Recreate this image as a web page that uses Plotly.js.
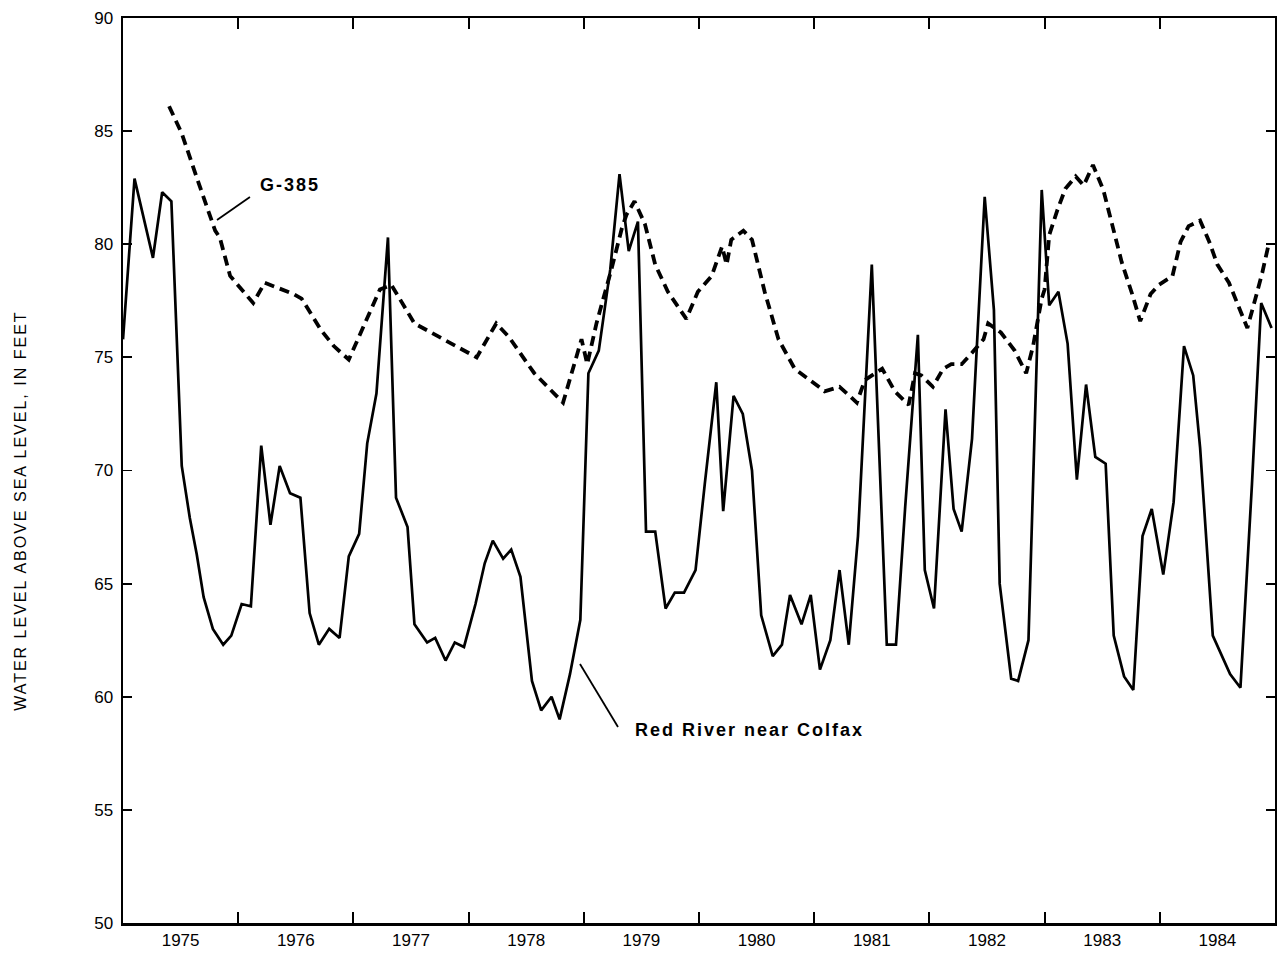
<!DOCTYPE html>
<html>
<head>
<meta charset="utf-8">
<script src="https://cdn.plot.ly/plotly-3.0.1.min.js"></script>
<style>html,body{margin:0;padding:0;background:#fff;}#chart{width:1277px;height:954px;}</style>
</head>
<body>
<div id="chart"></div>
<script>
// Red River near Colfax (solid line): decimal year, water level (ft)
const riverYears = [1975.00,1975.10,1975.26,1975.34,1975.42,1975.51,1975.58,1975.64,1975.70,1975.78,1975.87,1975.94,
  1976.03,1976.11,1976.20,1976.28,1976.36,1976.45,1976.54,1976.62,1976.70,1976.79,1976.88,1976.96,
  1977.05,1977.12,1977.20,1977.30,1977.37,1977.47,1977.53,1977.64,1977.71,1977.80,1977.88,1977.96,
  1978.06,1978.14,1978.21,1978.30,1978.37,1978.45,1978.55,1978.63,1978.72,1978.79,1978.88,1978.97,
  1979.04,1979.13,1979.23,1979.31,1979.39,1979.47,1979.54,1979.62,1979.71,1979.79,1979.87,1979.97,
  1980.05,1980.15,1980.21,1980.30,1980.38,1980.46,1980.54,1980.64,1980.72,1980.79,1980.89,1980.97,
  1981.05,1981.14,1981.22,1981.30,1981.38,1981.50,1981.63,1981.71,1981.79,1981.90,1981.96,
  1982.04,1982.14,1982.21,1982.28,1982.37,1982.48,1982.56,1982.61,1982.71,1982.77,1982.86,1982.975,
  1983.04,1983.12,1983.20,1983.28,1983.36,1983.44,1983.53,1983.60,1983.69,1983.77,1983.85,1983.93,
  1984.03,1984.12,1984.21,1984.29,1984.35,1984.46,1984.54,1984.61,1984.70,1984.80,1984.88,1984.97];
const riverLevels = [75.8,82.9,79.4,82.3,81.9,70.2,67.9,66.3,64.4,63.0,62.3,62.7,
  64.1,64.0,71.1,67.6,70.2,69.0,68.8,63.7,62.3,63.0,62.6,66.2,
  67.2,71.2,73.4,80.3,68.8,67.5,63.2,62.4,62.6,61.6,62.4,62.2,
  64.1,65.9,66.9,66.1,66.5,65.3,60.7,59.4,60.0,59.0,61.0,63.4,
  74.3,75.3,78.9,83.1,79.7,81.0,67.3,67.3,63.9,64.6,64.6,65.6,
  69.4,73.9,68.2,73.3,72.5,70.0,63.6,61.8,62.3,64.5,63.2,64.5,
  61.2,62.5,65.6,62.3,67.1,79.1,62.3,62.3,68.4,76.0,65.6,
  63.9,72.7,68.3,67.3,71.4,82.1,77.1,65.0,60.8,60.7,62.5,82.4,
  77.3,77.9,75.6,69.6,73.8,70.6,70.3,62.7,60.9,60.3,67.1,68.3,
  65.4,68.6,75.5,74.2,71.0,62.7,61.8,61.0,60.4,69.4,77.4,76.3];

// Well G-385 (dashed line)
const wellYears = [1975.40,1975.51,1975.65,1975.80,1975.84,1975.93,1976.13,1976.23,1976.48,1976.55,1976.72,1976.83,1976.96,
  1977.23,1977.33,1977.53,1978.07,1978.24,1978.35,1978.57,1978.82,1978.98,1979.03,1979.11,
  1979.24,1979.33,1979.37,1979.44,1979.53,1979.62,1979.73,1979.89,1979.99,1980.11,1980.20,1980.24,1980.28,1980.385,1980.46,
  1980.57,1980.69,1980.83,1981.04,1981.09,1981.22,1981.30,1981.37,1981.44,1981.59,1981.70,1981.82,1981.875,1981.93,
  1982.03,1982.12,1982.19,1982.28,1982.37,1982.47,1982.51,1982.62,1982.74,1982.84,1982.90,1982.975,1983.00,
  1983.04,1983.11,1983.18,1983.27,1983.34,1983.42,1983.51,1983.585,1983.67,1983.76,1983.83,1983.92,1983.99,
  1984.11,1984.18,1984.25,1984.35,1984.43,1984.50,1984.60,1984.68,1984.76,1984.83,1984.89,1984.945];
const wellLevels = [86.1,84.9,82.8,80.6,80.3,78.6,77.4,78.3,77.8,77.6,76.2,75.5,74.9,
  78.0,78.2,76.5,75.0,76.5,75.9,74.3,73.0,75.8,74.7,76.5,
  78.9,80.7,81.3,81.9,80.9,79.1,77.9,76.7,77.9,78.6,79.9,79.1,80.2,80.6,80.2,
  77.9,75.8,74.5,73.7,73.5,73.7,73.3,73.0,74.0,74.5,73.5,72.9,74.3,74.2,
  73.7,74.5,74.7,74.7,75.2,75.8,76.5,76.1,75.3,74.3,75.5,77.6,78.0,
  80.4,81.5,82.45,83.0,82.6,83.5,82.4,80.9,79.2,77.8,76.6,77.8,78.2,
  78.6,80.1,80.8,81.05,80.1,79.1,78.3,77.3,76.3,77.6,78.75,80.0];

const yearLabels = ['1975','1976','1977','1978','1979','1980','1981','1982','1983','1984'];
const yearMids = [1975.5,1976.5,1977.5,1978.5,1979.5,1980.5,1981.5,1982.5,1983.5,1984.5];
const yearBounds = [1976,1977,1978,1979,1980,1981,1982,1983,1984];
const levelTicks = [50,55,60,65,70,75,80,85,90];

const FONT = 'Liberation Sans, Arial, Helvetica, sans-serif';

const traces = [
  {x: wellYears, y: wellLevels, type: 'scatter', mode: 'lines', name: 'G-385',
   line: {color: '#000', width: 3.8, dash: '10px,6px'}, hoverinfo: 'skip'},
  {x: riverYears, y: riverLevels, type: 'scatter', mode: 'lines', name: 'Red River near Colfax',
   line: {color: '#000', width: 2.7}, hoverinfo: 'skip'}
];

const layout = {
  width: 1277, height: 954,
  margin: {l: 123, r: 2, t: 18, b: 31},
  paper_bgcolor: '#fff', plot_bgcolor: '#fff',
  showlegend: false,
  xaxis: {
    range: [1975, 1985], fixedrange: true,
    showgrid: false, zeroline: false,
    showline: true, linecolor: '#000', linewidth: 2.5, mirror: 'ticks',
    tickmode: 'array', tickvals: yearMids, ticktext: yearLabels,
    ticks: '', ticklen: 0,
    tickfont: {family: FONT, size: 17, color: '#000'},
    minor: {tickmode: 'array', tickvals: yearBounds, ticks: 'inside', ticklen: 11, tickwidth: 2, tickcolor: '#000', showgrid: false}
  },
  yaxis: {
    range: [50, 90], fixedrange: true,
    showgrid: false, zeroline: false,
    showline: true, linecolor: '#000', linewidth: 2.5, mirror: 'ticks',
    tickmode: 'array', tickvals: levelTicks,
    ticks: 'inside', ticklen: 9, tickwidth: 1.8, tickcolor: '#000',
    tickfont: {family: FONT, size: 17, color: '#000'},
    ticklabelstandoff: 4
  },
  shapes: [
    {type: 'line', xref: 'x', yref: 'y', x0: 1975.816, y0: 81.07, x1: 1976.102, y1: 82.09, line: {color: '#000', width: 1.8}},
    {type: 'line', xref: 'x', yref: 'y', x0: 1978.967, y0: 61.45, x1: 1979.297, y1: 58.66, line: {color: '#000', width: 1.8}}
  ],
  annotations: [
    {x: 1976.45, y: 82.62, xref: 'x', yref: 'y', showarrow: false,
     text: '<span style="letter-spacing:2px">G-385</span>',
     font: {family: FONT, size: 18, color: '#000', weight: 'bold'}},
    {x: 1980.434, y: 58.53, xref: 'x', yref: 'y', showarrow: false,
     text: '<span style="letter-spacing:2px">Red River near Colfax</span>',
     font: {family: FONT, size: 18, color: '#000', weight: 'bold'}},
    {x: -0.098, y: 0.455, xref: 'paper', yref: 'paper', showarrow: false, textangle: -90,
     text: '<span style="letter-spacing:2px">WATER LEVEL ABOVE SEA LEVEL, IN FEET</span>',
     font: {family: FONT, size: 16, color: '#000'}}
  ]
};

Plotly.newPlot('chart', traces, layout, {displayModeBar: false, staticPlot: true});
</script>
</body>
</html>
